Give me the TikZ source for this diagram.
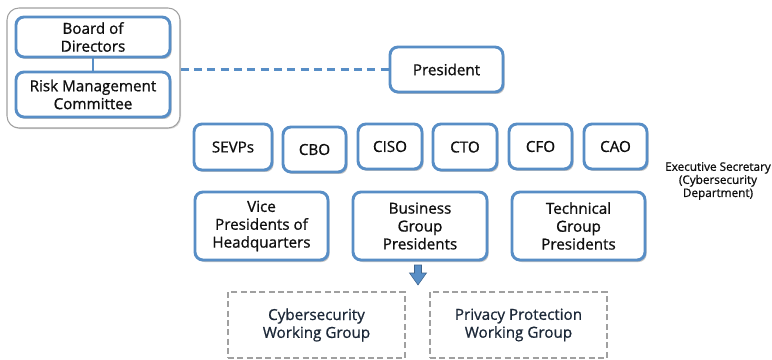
\documentclass[tikz,border=0pt]{standalone}
\usepackage{fontspec}
\setmainfont{Open Sans}[FakeBold=0.9]
\usetikzlibrary{shadows}
\definecolor{bblue}{RGB}{88,142,198}
\definecolor{txt}{RGB}{15,15,15}
\definecolor{navytxt}{RGB}{28,40,56}
\definecolor{ggray}{RGB}{160,160,160}
\begin{document}
\begin{tikzpicture}[x=0.75pt,y=-0.75pt,
  box/.style={draw=bblue, line width=2.2pt, rounded corners=6pt, fill=white,
    align=center, text=txt, font=\fontsize{11.4}{13.4}\selectfont, inner sep=0pt,
    drop shadow={shadow xshift=1.2pt, shadow yshift=-1.5pt, opacity=0.35, fill=black!70}},
  wgbox/.style={draw=ggray, line width=1.1pt, dash pattern=on 4.5pt off 2.5pt,
    align=center, text=navytxt, font=\fontsize{11.4}{13.4}\selectfont, inner sep=0pt},
  outerbox/.style={draw=ggray, line width=0.8pt, rounded corners=9pt, fill=white,
    drop shadow={shadow xshift=0.8pt, shadow yshift=-0.8pt, opacity=0.25, fill=black!60}},
  link/.style={draw=bblue, line width=1.6pt},
  dlink/.style={draw=bblue, line width=1.6pt, dash pattern=on 6pt off 4pt},
  blockarrow/.style={fill=bblue, draw=bblue!70!black, line width=0.4pt},
  note/.style={align=center, text=txt, font=\fontsize{8.8}{9.8}\selectfont, inner sep=0pt}]
\useasboundingbox (0,0) rectangle (772,360);
% left group
\node[outerbox, minimum width=129.75pt, minimum height=90pt] (outer) at (93.5,68) {};
\node[box, minimum width=115.5pt, minimum height=30pt] (board) at (93,37) {Board of\\Directors};
\node[box, minimum width=115.5pt, minimum height=33.75pt] (risk) at (93,94.5) {Risk Management\\Committee};
\draw[link] (board) -- (risk);
% president
\node[box, minimum width=84.75pt, minimum height=33.75pt] (pres) at (446.5,69.5) {President};
\draw[dlink] (outer.east |- pres.west) -- (pres.west);
% top row
\node[box, minimum width=58.5pt, minimum height=34.5pt] (sevps) at (233,147) {SEVPs};
\node[box, minimum width=47.25pt, minimum height=33.75pt] (cbo) at (314.5,149.5) {CBO};
\node[box, minimum width=48pt, minimum height=33.75pt] (ciso) at (390,146.5) {CISO};
\node[box, minimum width=48pt, minimum height=34.5pt] (cto) at (465,147) {CTO};
\node[box, minimum width=47.25pt, minimum height=33.75pt] (cfo) at (540.5,146.5) {CFO};
\node[box, minimum width=47.25pt, minimum height=33.75pt] (cao) at (615.5,146.5) {CAO};
\node[note] (exec) at (718,181) {Executive Secretary\\(Cybersecurity\\Department)};
% second row
\node[box, minimum width=99.75pt, minimum height=51pt] (vp) at (261.5,226) {Vice\\Presidents of\\Headquarters};
\node[box, minimum width=100.5pt, minimum height=51pt] (bgp) at (420,226) {Business\\Group\\Presidents};
\node[box, minimum width=99.75pt, minimum height=51pt] (tgp) at (578.5,226) {Technical\\Group\\Presidents};
% block arrow
\draw[blockarrow] (414.5,265) -- (421.5,265) -- (421.5,273) -- (426.5,273) -- (418,285)
  -- (409.5,273) -- (414.5,273) -- cycle;
% working groups
\node[wgbox, minimum width=132.75pt, minimum height=49.5pt] (cyber) at (316.5,325) {Cybersecurity\\Working Group};
\node[wgbox, minimum width=132.75pt, minimum height=49.5pt] (priv) at (518.5,325) {Privacy Protection\\Working Group};
\end{tikzpicture}
\end{document}
